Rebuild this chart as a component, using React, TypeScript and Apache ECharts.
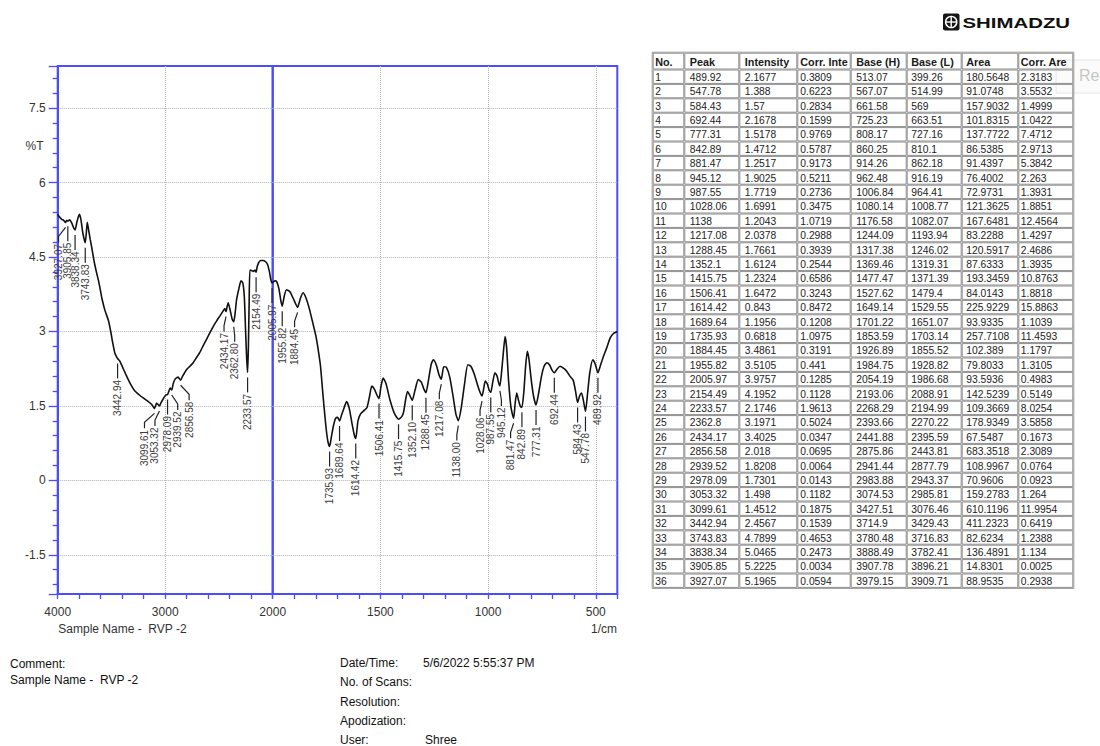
import React, { useEffect, useRef } from 'react';
import * as echarts from 'echarts';

const BLUE = '#4b4bff';
const DOT_GRAY = '#b0b0b0';
const FONT = '"Liberation Sans", Arial, sans-serif';

// FTIR trace, wavenumber (1/cm) vs %T, high-wavenumber half (4000 -> 2000)
const spectrumHigh: [number, number][] = [
  [4000, 5.36], [3985, 5.31], [3963, 5.26], [3945, 5.24], [3927.07, 5.1965], [3916, 5.24],
  [3905.85, 5.2225], [3890, 5.25], [3870, 5.19], [3850, 5.08], [3838.34, 5.0465], [3820, 5.22],
  [3799, 5.36], [3785, 5.27], [3765, 4.97], [3743.83, 4.7899], [3734, 4.98], [3725, 5.2],
  [3712, 5.04], [3698, 4.86], [3684, 4.7], [3660, 4.4], [3638, 4.18], [3620, 4.02], [3600, 3.8],
  [3588, 3.66], [3560, 3.42], [3528, 3.22], [3505, 2.98], [3489, 2.78], [3468, 2.56], [3452, 2.49],
  [3442.94, 2.4567], [3421, 2.4], [3390, 2.25], [3359, 2.1], [3320, 1.93], [3282, 1.8], [3240, 1.72],
  [3204, 1.66], [3160, 1.59], [3126, 1.53], [3110, 1.48], [3099.61, 1.4512], [3090, 1.5], [3080, 1.56],
  [3066, 1.53], [3053.32, 1.498], [3040, 1.56], [3019, 1.64], [2995, 1.72], [2978.09, 1.7301],
  [2965, 1.8], [2955, 1.86], [2939.52, 1.8208], [2925, 1.95], [2908, 2.04], [2880, 2.08],
  [2856.58, 2.018], [2838, 2.1], [2802, 2.23], [2770, 2.3], [2740, 2.37], [2710, 2.47], [2678, 2.58],
  [2645, 2.72], [2616, 2.84], [2585, 2.97], [2554, 3.1], [2520, 3.22], [2492, 3.31], [2465, 3.4],
  [2446, 3.46], [2434.17, 3.4025], [2424, 3.5], [2414, 3.58], [2398, 3.45], [2376, 3.24],
  [2362.8, 3.1971], [2350, 3.36], [2336, 3.64], [2315, 3.86], [2295, 4.02], [2278, 3.98], [2264, 3.7],
  [2252, 3.0], [2242, 2.45], [2233.57, 2.1746], [2226, 2.7], [2219, 3.6], [2212, 4.24], [2196, 4.23],
  [2180, 4.21], [2165, 4.24], [2154.49, 4.1952], [2145, 4.3], [2132, 4.38], [2112, 4.43], [2090, 4.43],
  [2068, 4.41], [2048, 4.35], [2032, 4.22], [2016, 4.03], [2005.97, 3.9757], [2000, 3.99],
];

// Low-wavenumber half (2000 -> 400), drawn on the expanded scale
const spectrumLow: [number, number][] = [
  [2000, 3.99], [1990, 4.02], [1982, 4.01], [1971, 3.86], [1963, 3.64], [1955.82, 3.5105], [1946, 3.72],
  [1936, 3.84], [1920, 3.8], [1900, 3.62], [1884.45, 3.4861], [1872, 3.66], [1859, 3.78], [1845, 3.67],
  [1830, 3.46], [1812, 3.14], [1800, 2.92], [1789, 2.64], [1778, 2.3], [1766, 1.69], [1753, 1.09],
  [1744, 0.79], [1735.93, 0.6818], [1727, 0.89], [1718, 1.1], [1708, 1.25], [1698, 1.27],
  [1689.64, 1.1956], [1680, 1.32], [1668, 1.47], [1657, 1.59], [1645, 1.46], [1632, 1.15], [1622, 0.93],
  [1614.42, 0.843], [1604, 1.2], [1592, 1.34], [1575, 1.41], [1562, 1.47], [1550, 1.7], [1540, 1.9],
  [1528, 1.84], [1515, 1.71], [1506.41, 1.6472], [1497, 1.9], [1487, 2.06], [1474, 1.95], [1456, 1.63],
  [1435, 1.35], [1415.75, 1.2324], [1400, 1.29], [1392, 1.38], [1383, 1.62], [1374, 1.79], [1363, 1.71],
  [1352.1, 1.6124], [1339, 1.82], [1324, 2.03], [1310, 1.98], [1299, 1.85], [1288.45, 1.7661],
  [1276, 2.04], [1264, 2.34], [1254, 2.43], [1240, 2.32], [1228, 2.13], [1217.08, 2.0378], [1206, 2.29],
  [1194, 2.28], [1178, 2.08], [1162, 1.68], [1149, 1.33], [1138, 1.2043], [1125, 1.45], [1110, 1.92],
  [1094, 2.33], [1080, 2.3], [1064, 2.14], [1046, 1.88], [1036, 1.76], [1028.06, 1.6991], [1020, 1.86],
  [1013, 2.0], [1004, 1.95], [995, 1.82], [987.55, 1.7719], [978, 1.99], [968, 2.17], [958, 2.1],
  [950, 1.95], [945.12, 1.9025], [938, 2.15], [929, 2.58], [921, 2.9], [914, 2.68], [905, 2.02],
  [894, 1.48], [881.47, 1.2517], [874, 1.56], [867, 1.76], [859, 1.62], [850, 1.49], [842.89, 1.4712],
  [834, 1.78], [826, 2.28], [818, 2.6], [810, 2.44], [800, 2.04], [789, 1.7], [777.31, 1.5178],
  [765, 1.76], [752, 2.1], [740, 2.3], [728, 2.37], [715, 2.33], [703, 2.22], [692.44, 2.1678],
  [680, 2.24], [666, 2.3], [650, 2.26], [635, 2.2], [620, 2.1], [605, 2.02], [594, 1.8], [584.43, 1.57],
  [575, 1.7], [566, 1.76], [557, 1.6], [547.78, 1.388], [538, 1.75], [528, 2.16], [514, 2.43],
  [503, 2.35], [489.92, 2.1677], [478, 2.32], [464, 2.5], [450, 2.66], [433, 2.87], [418, 2.96], [400, 3.0],
];

// Peak table columns
const peakWn = [489.92, 547.78, 584.43, 692.44, 777.31, 842.89, 881.47, 945.12, 987.55, 1028.06, 1138, 1217.08, 1288.45, 1352.1, 1415.75, 1506.41, 1614.42, 1689.64, 1735.93, 1884.45, 1955.82, 2005.97, 2154.49, 2233.57, 2362.8, 2434.17, 2856.58, 2939.52, 2978.09, 3053.32, 3099.61, 3442.94, 3743.83, 3838.34, 3905.85, 3927.07];
const intensity = [2.1677, 1.388, 1.57, 2.1678, 1.5178, 1.4712, 1.2517, 1.9025, 1.7719, 1.6991, 1.2043, 2.0378, 1.7661, 1.6124, 1.2324, 1.6472, 0.843, 1.1956, 0.6818, 3.4861, 3.5105, 3.9757, 4.1952, 2.1746, 3.1971, 3.4025, 2.018, 1.8208, 1.7301, 1.498, 1.4512, 2.4567, 4.7899, 5.0465, 5.2225, 5.1965];
const corrIntensity = [0.3809, 0.6223, 0.2834, 0.1599, 0.9769, 0.5787, 0.9173, 0.5211, 0.2736, 0.3475, 1.0719, 0.2988, 0.3939, 0.2544, 0.6586, 0.3243, 0.8472, 0.1208, 1.0975, 0.3191, 0.441, 0.1285, 0.1128, 1.9613, 0.5024, 0.0347, 0.0695, 0.0064, 0.0143, 0.1182, 0.1875, 0.1539, 0.4653, 0.2473, 0.0034, 0.0594];
const baseHigh = [513.07, 567.07, 661.58, 725.23, 808.17, 860.25, 914.26, 962.48, 1006.84, 1080.14, 1176.58, 1244.09, 1317.38, 1369.46, 1477.47, 1527.62, 1649.14, 1701.22, 1853.59, 1926.89, 1984.75, 2054.19, 2193.06, 2268.29, 2393.66, 2441.88, 2875.86, 2941.44, 2983.88, 3074.53, 3427.51, 3714.9, 3780.48, 3888.49, 3907.78, 3979.15];
const baseLow = [399.26, 514.99, 569, 663.51, 727.16, 810.1, 862.18, 916.19, 964.41, 1008.77, 1082.07, 1193.94, 1246.02, 1319.31, 1371.39, 1479.4, 1529.55, 1651.07, 1703.14, 1855.52, 1928.82, 1986.68, 2088.91, 2194.99, 2270.22, 2395.59, 2443.81, 2877.79, 2943.37, 2985.81, 3076.46, 3429.43, 3716.83, 3782.41, 3896.21, 3909.71];
const area = [180.5648, 91.0748, 157.9032, 101.8315, 137.7722, 86.5385, 91.4397, 76.4002, 72.9731, 121.3625, 167.6481, 83.2288, 120.5917, 87.6333, 193.3459, 84.0143, 225.9229, 93.9335, 257.7108, 102.389, 79.8033, 93.5936, 142.5239, 109.3669, 178.9349, 67.5487, 683.3518, 108.9967, 70.9606, 159.2783, 610.1196, 411.2323, 82.6234, 136.4891, 14.8301, 88.9535];
const corrArea = [2.3183, 3.5532, 1.4999, 1.0422, 7.4712, 2.9713, 5.3842, 2.263, 1.3931, 1.8851, 12.4564, 1.4297, 2.4686, 1.3935, 10.8763, 1.8818, 15.8863, 1.1039, 11.4593, 1.1797, 1.3105, 0.4983, 0.5149, 8.0254, 3.5858, 0.1673, 2.3089, 0.0764, 0.0923, 1.264, 11.9954, 0.6419, 1.2388, 1.134, 0.0025, 0.2938];
const tableHeaders = ['No.', 'Peak', 'Intensity', 'Corr. Inte', 'Base (H)', 'Base (L)', 'Area', 'Corr. Are'];

// Report footer
const infoLeft = ['Comment:', 'Sample Name -  RVP -2'];
const infoKeys = ['Date/Time:', 'No. of Scans:', 'Resolution:', 'Apodization:', 'User:'];
const infoValues = ['5/6/2022 5:55:37 PM', '', '', '', 'Shree'];
const sampleName = 'Sample Name -  RVP -2';

// Sideways nudges (px) for peak labels that would collide with a neighbour
const labelShift: Record<string, number> = {
  '3927.07': -7, '3099.61': -10, '3053.32': -4.5, '2939.52': 6, '2856.58': 8.5, '1884.45': -3,
  '881.47': -3, '2434.17': -2, '2362.80': 1, '1217.08': -2, '1138.00': -1.5, '1028.06': -2, '945.12': 1.5,
};

// Axis frame
const Y_MIN = -2.29;
const Y_MAX = 8.35;
const PLOT_TOP = 66;
const PLOT_H = 528;
const X_LEFT = 57.7;
const X_BREAK = 272.7;
const X_RIGHT = 617.3;

// Table frame
const COL_X = [652.7, 684.3, 739.3, 797.3, 850.7, 906.7, 961.7, 1018.3, 1073.3];
const COL_PAD = [2.5, 5.5, 5.5, 3, 5.5, 4.5, 4.5, 2.5];
const HEAD_TOP = 52.7;
const HEAD_H = 16.8;
const ROW_H = 14.4;

function text(x: number, y: number, str: string, extra: Record<string, any> = {}, elExtra: Record<string, any> = {}) {
  const align = extra.align || 'left';
  const valign = extra.verticalAlign || 'middle';
  return {
    type: 'text',
    x,
    y,
    silent: true,
    ...elExtra,
    style: {
      text: str,
      fontFamily: FONT,
      fontSize: 12,
      fill: '#222',
      ...extra,
      align,
      textAlign: align,
      verticalAlign: valign,
      textVerticalAlign: valign,
    },
  };
}

function buildTable() {
  const els: any[] = [];
  const rows: string[][] = [tableHeaders];
  for (let i = 0; i < peakWn.length; i++) {
    rows.push([
      String(i + 1), String(peakWn[i]), String(intensity[i]), String(corrIntensity[i]),
      String(baseHigh[i]), String(baseLow[i]), String(area[i]), String(corrArea[i]),
    ]);
  }
  rows.forEach((row, r) => {
    const y0 = r === 0 ? HEAD_TOP : HEAD_TOP + HEAD_H + (r - 1) * ROW_H;
    const h = r === 0 ? HEAD_H : ROW_H;
    row.forEach((cell, c) => {
      const x0 = COL_X[c];
      const w = COL_X[c + 1] - x0;
      els.push({
        type: 'rect',
        silent: true,
        shape: { x: x0 + 0.5, y: y0 + 0.5, width: w - 1, height: h - 1 },
        style: { fill: null, stroke: '#8e8e8e', lineWidth: 1 },
      });
      els.push(
        text(x0 + COL_PAD[c], y0 + h / 2 + 0.5, cell, r === 0
          ? { fontSize: 10.8, fontWeight: 'bold', fill: '#1a1a1a' }
          : { fontSize: 10.3, fill: '#222' }),
      );
    });
  });
  const tableBottom = HEAD_TOP + HEAD_H + peakWn.length * ROW_H;
  els.push({
    type: 'rect',
    silent: true,
    shape: { x: COL_X[0] - 0.5, y: HEAD_TOP - 0.5, width: COL_X[8] - COL_X[0] + 1, height: tableBottom - HEAD_TOP + 1 },
    style: { fill: null, stroke: '#9a9a9a', lineWidth: 1 },
  });
  return els;
}

function buildBackdrop() {
  // faint button edge at the right margin, sits underneath the table
  return [
    { type: 'rect', silent: true, shape: { x: 1056, y: 60, width: 60, height: 33 }, style: { fill: '#fbfbfb', stroke: '#e6e6e6', lineWidth: 1 } },
    text(1079, 75.5, 'Re', { fontSize: 16, fill: '#c6c6c6' }),
  ];
}

function buildDecor() {
  const els: any[] = [];
  // maker logo
  els.push({ type: 'rect', silent: true, shape: { x: 943, y: 13.5, width: 16.5, height: 17, r: 2 }, style: { fill: '#151515' } });
  els.push({ type: 'circle', silent: true, shape: { cx: 951.2, cy: 22, r: 5.6 }, style: { fill: null, stroke: '#fff', lineWidth: 1.4 } });
  els.push({ type: 'line', silent: true, shape: { x1: 945.6, y1: 22, x2: 956.8, y2: 22 }, style: { stroke: '#fff', lineWidth: 1.4 } });
  els.push({ type: 'line', silent: true, shape: { x1: 951.2, y1: 16.4, x2: 951.2, y2: 27.6 }, style: { stroke: '#fff', lineWidth: 1.4 } });
  els.push(text(962.5, 22.8, 'SHIMADZU', { fontSize: 15, fontWeight: 'bold', fill: '#111' }, { scaleX: 1.36 }));

  // axis captions
  els.push(text(43.5, 146, '%T', { fontSize: 12, fill: '#333', align: 'right' }));
  els.push(text(58.3, 628.5, sampleName, { fontSize: 12, fill: '#333' }));
  els.push(text(617, 628.5, '1/cm', { fontSize: 12, fill: '#333', align: 'right' }));

  // footer
  els.push(text(10, 664, infoLeft[0], { fontSize: 12, fill: '#111' }));
  els.push(text(10, 680, infoLeft[1], { fontSize: 12, fill: '#111' }));
  const keyY = [663, 682, 702, 721, 740];
  infoKeys.forEach((k, i) => {
    els.push(text(340, keyY[i], k, { fontSize: 12, fill: '#111' }));
    if (infoValues[i]) els.push(text(i === 0 ? 423 : 425, keyY[i], infoValues[i], { fontSize: 12, fill: '#111' }));
  });
  return els;
}

const dotted = { show: true, showMinLine: false, showMaxLine: false, lineStyle: { color: DOT_GRAY, type: 'dotted', width: 1 } };

function xAxisCfg(gridIndex: number, min: number, max: number, step: number, split: number, hideEnds: boolean) {
  return {
    type: 'value',
    gridIndex,
    inverse: true,
    min,
    max,
    splitNumber: split,
    minInterval: step,
    maxInterval: step,
    axisLine: { show: true, onZero: false, lineStyle: { color: BLUE, width: 2 } },
    axisTick: { show: true, inside: false, length: 5, lineStyle: { color: BLUE, width: 1.3 } },
    minorTick: { show: true, splitNumber: 5, length: 5, lineStyle: { color: BLUE, width: 1.3 } },
    axisLabel: {
      show: true, fontSize: 12, color: '#333', margin: 12, fontFamily: FONT,
      showMinLabel: !hideEnds, showMaxLabel: !hideEnds,
      formatter: (v: number) => String(v),
    },
    splitLine: dotted,
    minorSplitLine: { show: false },
  };
}

function yAxisCfg(gridIndex: number, visible: boolean) {
  return {
    type: 'value',
    gridIndex,
    position: 'left',
    min: Y_MIN,
    max: Y_MAX,
    splitNumber: 7,
    minInterval: 1.5,
    maxInterval: 1.5,
    axisLine: { show: visible, onZero: false, lineStyle: { color: BLUE, width: 2 } },
    axisTick: { show: visible, inside: false, length: 9, lineStyle: { color: BLUE, width: 1.3 } },
    minorTick: { show: visible, splitNumber: 5, length: 5, lineStyle: { color: BLUE, width: 1.3 } },
    axisLabel: {
      show: visible, fontSize: 12, color: '#333', margin: 12, fontFamily: FONT,
      showMinLabel: false, showMaxLabel: false,
      formatter: (v: number) => String(v),
    },
    splitLine: dotted,
  };
}

function renderPeakLabel(_params: any, api: any) {
  const wn = api.value(0) as number;
  const t = api.value(1) as number;
  const pt = api.coord([wn, t]);
  const x = pt[0];
  const y = pt[1];
  const key = wn.toFixed(2);
  const dx = labelShift[key] || 0;
  const top = y + 20;
  return {
    type: 'group',
    children: [
      {
        type: 'polyline',
        shape: { points: [[x, y + 5], [x + dx, y + 14], [x + dx, top]] },
        style: { stroke: '#222', lineWidth: 1.2, fill: null },
      },
      {
        type: 'text',
        x: x + dx,
        y: top + 1.5,
        rotation: Math.PI / 2,
        style: {
          text: key,
          fontFamily: FONT,
          fontSize: 10,
          fill: '#3c3c3c',
          align: 'right',
          textAlign: 'right',
          verticalAlign: 'middle',
          textVerticalAlign: 'middle',
        },
      },
    ],
  };
}

function buildOption() {
  const peaks = peakWn.map((w, i) => [w, intensity[i]]);
  const peaksHigh = peaks.filter((p) => p[0] >= 2000);
  const peaksLow = peaks.filter((p) => p[0] < 2000);
  const gridCommon = { top: PLOT_TOP, height: PLOT_H, show: true, borderColor: BLUE, borderWidth: 2, backgroundColor: 'transparent' };
  const lineStyle = { color: '#111', width: 1.6 };

  return {
    animation: false,
    backgroundColor: '#fff',
    textStyle: { fontFamily: FONT },
    grid: [
      { ...gridCommon, left: X_LEFT, width: X_BREAK - X_LEFT },
      { ...gridCommon, left: X_BREAK, width: X_RIGHT - X_BREAK },
    ],
    xAxis: [
      xAxisCfg(0, 2000, 4000, 1000, 2, false),
      xAxisCfg(1, 400, 2000, 500, 3, true),
    ],
    yAxis: [yAxisCfg(0, true), yAxisCfg(1, false)],
    series: [
      {
        type: 'line', xAxisIndex: 0, yAxisIndex: 0, data: spectrumHigh, showSymbol: false,
        smooth: 0.2, lineStyle, silent: true, z: 3,
      },
      {
        type: 'line', xAxisIndex: 1, yAxisIndex: 1, data: spectrumLow, showSymbol: false,
        smooth: 0.2, lineStyle, silent: true, z: 3,
      },
      {
        type: 'custom', xAxisIndex: 0, yAxisIndex: 0, data: peaksHigh, renderItem: renderPeakLabel,
        clip: false, silent: true, z: 4,
      },
      {
        type: 'custom', xAxisIndex: 1, yAxisIndex: 1, data: peaksLow, renderItem: renderPeakLabel,
        clip: false, silent: true, z: 4,
      },
    ],
    graphic: { elements: [...buildBackdrop(), ...buildTable(), ...buildDecor()] },
  };
}

export default function App() {
  const ref = useRef<HTMLDivElement>(null);
  useEffect(() => {
    if (!ref.current) return;
    const chart = echarts.init(ref.current, undefined, { renderer: 'svg' });
    chart.setOption(buildOption() as any);
    return () => chart.dispose();
  }, []);
  return (
    <div
      ref={ref}
      style={{ position: 'absolute', left: 0, top: 0, width: 1100, height: 746, background: '#fff' }}
    />
  );
}
